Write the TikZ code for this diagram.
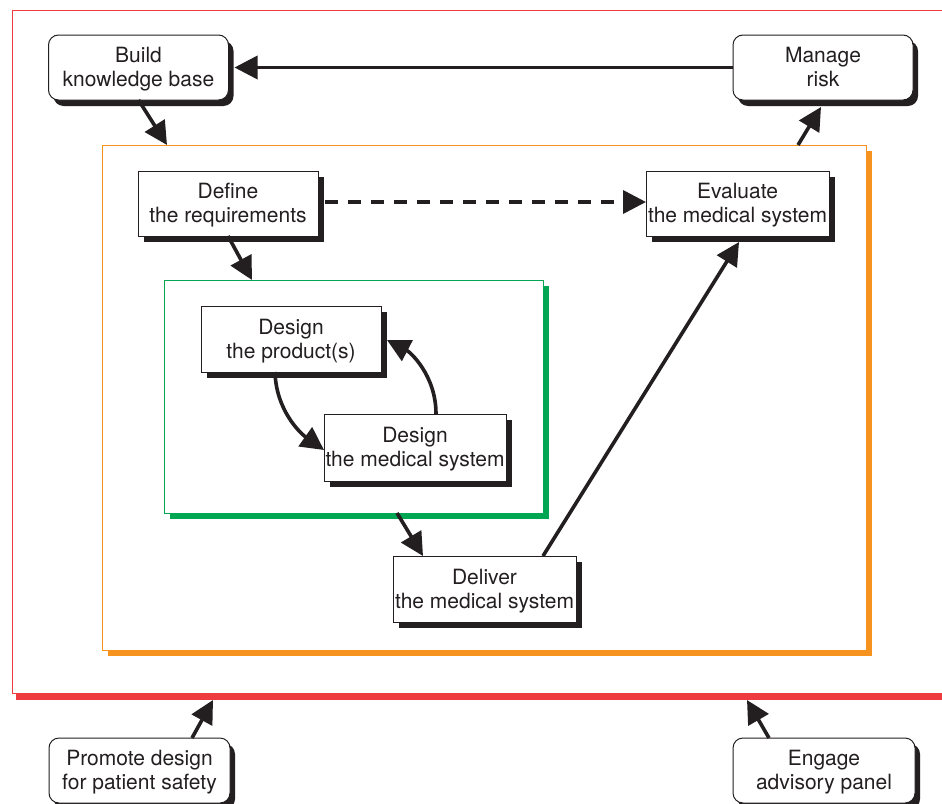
\documentclass[tikz,border=0pt]{standalone}
\usepackage{fontspec}
\setmainfont{TeX Gyre Heros}
\usetikzlibrary{arrows.meta,shadows,calc}
\definecolor{txt}{HTML}{231F20}
\definecolor{fred}{HTML}{EE3B3F}
\definecolor{forange}{HTML}{F6921E}
\definecolor{fgreen}{HTML}{00A651}
\begin{document}
\begin{tikzpicture}[x=0.5pt,y=-0.5pt,
  every node/.style={inner sep=0pt,outer sep=0pt,text=txt,align=center,
    font=\fontsize{10.5}{12}\selectfont},
  boxtext/.style={text height=20.5pt,text depth=1.5pt},
  roundbox/.style={boxtext,draw=txt,line width=0.5pt,fill=white,rounded corners=5pt,
    minimum width=90pt,minimum height=32.5pt,
    drop shadow={shadow xshift=2.5pt,shadow yshift=-3pt,fill=txt,opacity=1}},
  sqbox/.style={boxtext,draw=txt,line width=0.5pt,fill=white,
    minimum width=90pt,minimum height=32.5pt,
    drop shadow={shadow xshift=3pt,shadow yshift=-3pt,fill=txt,opacity=1}},
  frame/.style={draw=#1,line width=0.5pt,fill=white,
    drop shadow={shadow xshift=3pt,shadow yshift=-3pt,fill=#1,opacity=1}},
  conn/.style={draw=txt,line width=1.8pt,-{Triangle[length=11.5pt,width=11.5pt]}},
]
\useasboundingbox (0,0) rectangle (942,803);
\clip (0,0) rectangle (942,803);
\fill[white] (0,0) rectangle (942,803);

% frames
\node[frame=fred,minimum width=466.5pt,minimum height=341.5pt,
  drop shadow={shadow xshift=2pt,shadow yshift=-3.5pt,fill=fred,opacity=1}] (red) at (478.5,351.5) {};
\node[frame=forange,minimum width=382pt,minimum height=252.5pt] (orange) at (484,397.5) {};
\node[frame=fgreen,minimum width=189.5pt,minimum height=116.5pt] (green) at (353.5,396.5) {};

% boxes
\node[roundbox] (build) at (138.5,67.5) {Build\\knowledge base};
\node[roundbox] (manage) at (823,67.5) {Manage\\risk};
\node[roundbox,minimum width=90.5pt] (promote) at (139.5,770.5) {Promote design\\for patient safety};
\node[roundbox,minimum width=91pt] (engage) at (824,770.5) {Engage\\advisory panel};

\node[sqbox] (define) at (228,203.5) {Define\\the requirements};
\node[sqbox,minimum width=91.5pt] (evaluate) at (737.5,203.5) {Evaluate\\the medical system};
\node[sqbox,minimum height=33pt] (product) at (291,339) {Design\\the product(s)};
\node[sqbox,minimum width=91pt,minimum height=33.5pt] (medical) at (415,447.5) {Design\\the medical system};
\node[sqbox,minimum width=91.5pt,minimum height=33pt] (deliver) at (484.5,589) {Deliver\\the medical system};

% connector end points on frames
\coordinate (oTopL) at (167,145);
\coordinate (oTopR) at (798,145);
\coordinate (gTop) at (252,280);
\coordinate (gBot) at (397,513);
\coordinate (rBotL) at (213,700);
\coordinate (rBotR) at (747,700);

% connectors
\draw[conn] (manage.west) -- ($(build.east)+(6,0)$);
\draw[conn] (build.south) -- (oTopL);
\draw[conn] (oTopR) -- ($(manage.south)+(-2,7)$);
\draw[conn] (define.south) -- (gTop);
\draw[conn,dash pattern=on 6.5pt off 5pt] ($(define.east)+(7,-1.5)$) -- ($(evaluate.west)+(0,-1.5)$);
\draw[conn] ($(product.south)+(-16,0)$) .. controls (276,410) and (300,433) .. ($(medical.west)+(0,2.5)$);
\draw[conn] ($(medical.north)+(21,0)$) .. controls (436,375) and (410,352) .. ($(product.east)+(6,1)$);
\draw[conn] (gBot) -- ($(deliver.north west)+(30,0)$);
\draw[conn] ($(deliver.north west)+(150,0)$) -- ($(evaluate.south)+(1.5,6)$);
\draw[conn] ($(promote.north west)+(143,0)$) -- (rBotL);
\draw[conn] ($(engage.north west)+(36,0)$) -- (rBotR);
\end{tikzpicture}
\end{document}
